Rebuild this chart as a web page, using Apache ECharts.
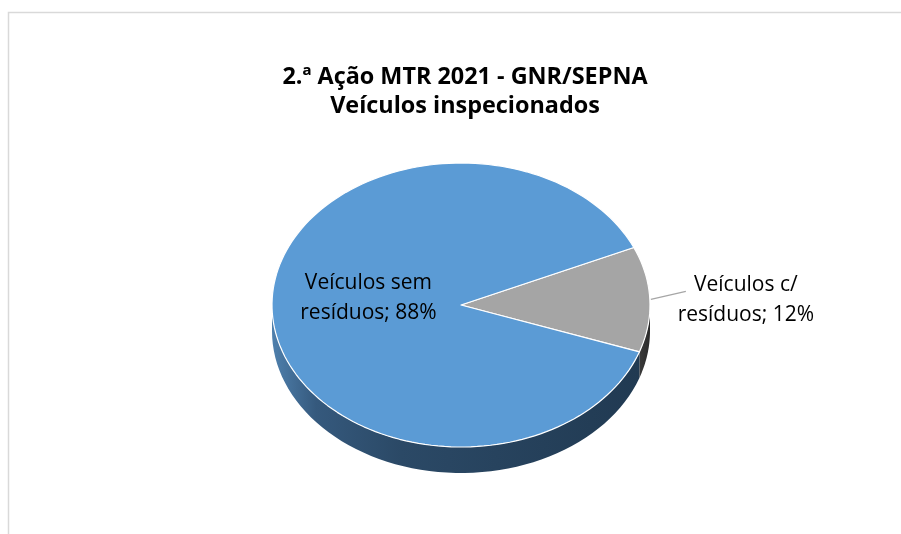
<!DOCTYPE html>
<html><head><meta charset="utf-8">
<script src="https://cdn.jsdelivr.net/npm/echarts@6/dist/echarts.min.js"></script>
<style>html,body{margin:0;padding:0;background:#fff}#c{width:901px;height:534px}</style>
</head><body><div id="c"></div>
<script>
const titleLines = ['2.ª Ação MTR 2021 - GNR/SEPNA', 'Veículos inspecionados'];
const categories = ['Veículos c/\nresíduos', 'Veículos sem\nresíduos'];
const values = [12, 88];

const chart = echarts.init(document.getElementById('c'));
const FONT = '"Open Sans", sans-serif';
const CX = 461, CY = 305, RX = 189, RY = 142, DEPTH = 26;
const START = 23.9; // degrees, math orientation; slices go clockwise
const total = values.reduce((a, b) => a + b, 0);

function sliceAngles(i) {
  let before = 0;
  for (let k = 0; k < i; k++) before += values[k];
  const a0 = START - before / total * 360;
  const a1 = a0 - values[i] / total * 360;
  return [a0, a1];
}
function pt(a, dy) {
  const r = a * Math.PI / 180;
  return [CX + RX * Math.cos(r), CY - RY * Math.sin(r) + (dy || 0)];
}
const topColors = ['#a5a5a5', '#5b9bd5'];
const sideColors = [
  new echarts.graphic.LinearGradient(0, 0, 1, 0, [{offset: 0, color: '#3a3a3a'}, {offset: 1, color: '#2a2a2a'}]),
  new echarts.graphic.LinearGradient(0, 0, 1, 0, [
    {offset: 0, color: '#4f80ad'}, {offset: 0.12, color: '#35597d'}, {offset: 0.35, color: '#2b4966'}, {offset: 1, color: '#213a52'}])
];

function sideItem(params, api) {
  const i = params.dataIndex;
  let [a0, a1] = sliceAngles(i);
  const children = [];
  for (const shift of [0, -360, 360]) {
    const hi = Math.min(a0 + shift, 0), lo = Math.max(a1 + shift, -180);
    if (hi > lo) {
      const pts = [];
      const n = 60;
      for (let k = 0; k <= n; k++) pts.push(pt(hi - (hi - lo) * k / n, 0));
      for (let k = n; k >= 0; k--) pts.push(pt(hi - (hi - lo) * k / n, DEPTH));
      children.push({type: 'polygon', shape: {points: pts}, style: {fill: sideColors[i], stroke: null}});
    }
  }
  return {type: 'group', children};
}

function topItem(params, api) {
  const i = params.dataIndex;
  const [a0, a1] = sliceAngles(i);
  const pts = [[CX, CY]];
  const n = Math.max(8, Math.ceil(Math.abs(a0 - a1) / 2));
  for (let k = 0; k <= n; k++) pts.push(pt(a0 + (a1 - a0) * k / n));
  const children = [{type: 'polygon', shape: {points: pts},
    style: {fill: topColors[i], stroke: '#ffffff', lineWidth: 1.2, lineJoin: 'round'}}];
  const mid = (a0 + a1) / 2;
  const pct = Math.round(api.value(0) / total * 100) + '%';
  const txt = categories[i] + '; ' + pct;
  if (i === 1) {
    const r = mid * Math.PI / 180;
    children.push({type: 'text', style: {text: txt, x: CX + RX * 0.49 * Math.cos(r), y: CY - RY * 0.49 * Math.sin(r) - 10,
      align: 'center', verticalAlign: 'middle', fill: '#000', font: '21px ' + FONT, lineHeight: 30}});
  } else {
    const e = pt(mid);
    children.push({type: 'polyline', shape: {points: [[e[0] + 1, e[1]], [e[0] + 36, e[1] - 8]]}, style: {stroke: '#a6a6a6', lineWidth: 1.3}});
    children.push({type: 'text', style: {text: txt, x: e[0] + 96, y: e[1] + 1,
      align: 'center', verticalAlign: 'middle', fill: '#000', font: '21px ' + FONT, lineHeight: 30}});
  }
  return {type: 'group', children};
}

const data = values.map((v, i) => ({name: categories[i], value: v}));

chart.setOption({
  animation: false,
  title: {text: titleLines.join('\n'), left: 460, textAlign: 'center', top: 58,
    textStyle: {fontFamily: FONT, fontSize: 23.4, fontWeight: 'bold', color: '#000', lineHeight: 29}},
  graphic: [{type: 'rect', shape: {x: 8.5, y: 12.5, width: 1000, height: 1000}, style: {fill: null, stroke: '#d9d9d9', lineWidth: 1.5}, silent: true}],
  series: [
    {type: 'custom', coordinateSystem: 'none', renderItem: sideItem, data: data, z: 1},
    {type: 'custom', coordinateSystem: 'none', renderItem: topItem, data: data, z: 2}
  ]
});
</script></body></html>
